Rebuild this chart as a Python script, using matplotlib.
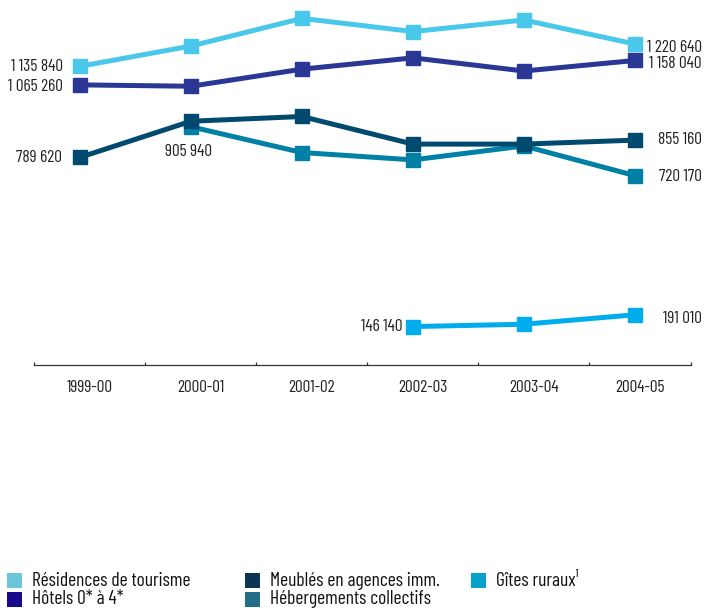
import numpy as np
import matplotlib
matplotlib.use('Agg')
import matplotlib.pyplot as plt
from matplotlib.patches import Rectangle

plt.rcParams['font.family'] = ['Barlow Condensed', 'Archivo Narrow', 'DejaVu Sans']

# seasons on the x axis
seasons = ['1999-00', '2000-01', '2001-02', '2002-03', '2003-04', '2004-05']

# capacity per accommodation type (None = no data that season)
residences = [1135840, 1213000, 1318000, 1268000, 1312000, 1220640]
hotels = [1065260, 1060000, 1125000, 1168000, 1118000, 1158040]
meubles = [789620, 927000, 945000, 840000, 840000, 855160]
hebergements = [None, 905940, 808000, 780000, 833000, 720170]
gites = [None, None, None, 146140, 155000, 191010]

names = ['Résidences de tourisme', 'Hôtels 0* à 4*', 'Meublés en agences imm.',
         'Hébergements collectifs', 'Gîtes ruraux¹']

line_cols = {'res': '#4ac8ec', 'hot': '#2a3794', 'meu': '#004a6f',
             'heb': '#0080a5', 'git': '#00adec'}
legend_cols = ['#6cc6d9', '#170a8a', '#0d3551', '#236d87', '#07a1c9']

W, H = 705, 608
fig = plt.figure(figsize=(W / 100, H / 100), dpi=100)
ax = fig.add_axes([34 / W, 243 / H, 657 / W, 360 / H])

x = np.arange(len(seasons))


def series(vals):
    return np.array([np.nan if v is None else v for v in vals], dtype=float)


def draw(vals, col):
    ax.plot(x, series(vals), color=col, lw=3.6, marker='s', ms=10.5,
            mec=col, mfc=col, clip_on=False, solid_joinstyle='miter')


draw(residences, line_cols['res'])
draw(hotels, line_cols['hot'])
draw(hebergements, line_cols['heb'])
draw(meubles, line_cols['meu'])
draw(gites, line_cols['git'])

xmin, xmax = -0.414, 5.505
ax.set_xlim(xmin, xmax)
ax.set_ylim(0, 1.369e6)

for s in ['top', 'left', 'right']:
    ax.spines[s].set_visible(False)
ax.spines['bottom'].set_color('#333333')
ax.spines['bottom'].set_linewidth(0.9)
ax.set_yticks([])

# boundaries between seasons carry the tick marks, labels sit between them
bounds = list(x - 0.41) + [xmax]
mids = [(bounds[i] + bounds[i + 1]) / 2 for i in range(len(seasons))]
ax.set_xticks(bounds, minor=True)
ax.set_xticks(mids)
ax.set_xticklabels(seasons, fontsize=12.5, color='#222222')
ax.tick_params(axis='x', which='major', length=0, pad=11)
ax.tick_params(axis='x', which='minor', direction='in', length=2.3,
               width=0.9, color='#333333')


def fmt(v):
    return f'{v:,}'.replace(',', ' ')


def label(i, vals, dx, dy, ha):
    ax.annotate(fmt(vals[i]), (x[i], vals[i]), xytext=(dx, dy),
                textcoords='offset pixels', ha=ha, va='center',
                fontsize=12.5, color='#222222', annotation_clip=False)


label(0, residences, -17, 0, 'right')
label(0, hotels, -17, -2, 'right')
label(0, meubles, -18, 0, 'right')
label(1, hebergements, -2, -25, 'center')
# right-hand labels share a right edge
label(5, residences, 67, -3, 'right')
label(5, hotels, 67, -3, 'right')
label(5, meubles, 67, 1, 'right')
label(5, hebergements, 67, -1, 'right')
label(3, gites, -10, 0, 'right')
label(5, gites, 67, -4, 'right')

# legend drawn as squares and texts in figure pixels
slots = [(7, 580.5), (7, 599), (245, 580.5), (245, 599), (471, 580.5)]
for (lx, ly), name, col in zip(slots, names, legend_cols):
    fig.add_artist(Rectangle(((lx) / W, (H - ly - 7.5) / H), 15 / W, 15 / H,
                             transform=fig.transFigure, color=col, lw=0))
    fig.text((lx + 25) / W, (H - ly) / H, name, fontsize=14, color='#111111',
             va='center', ha='left')

fig.savefig('out.png', dpi=100)
